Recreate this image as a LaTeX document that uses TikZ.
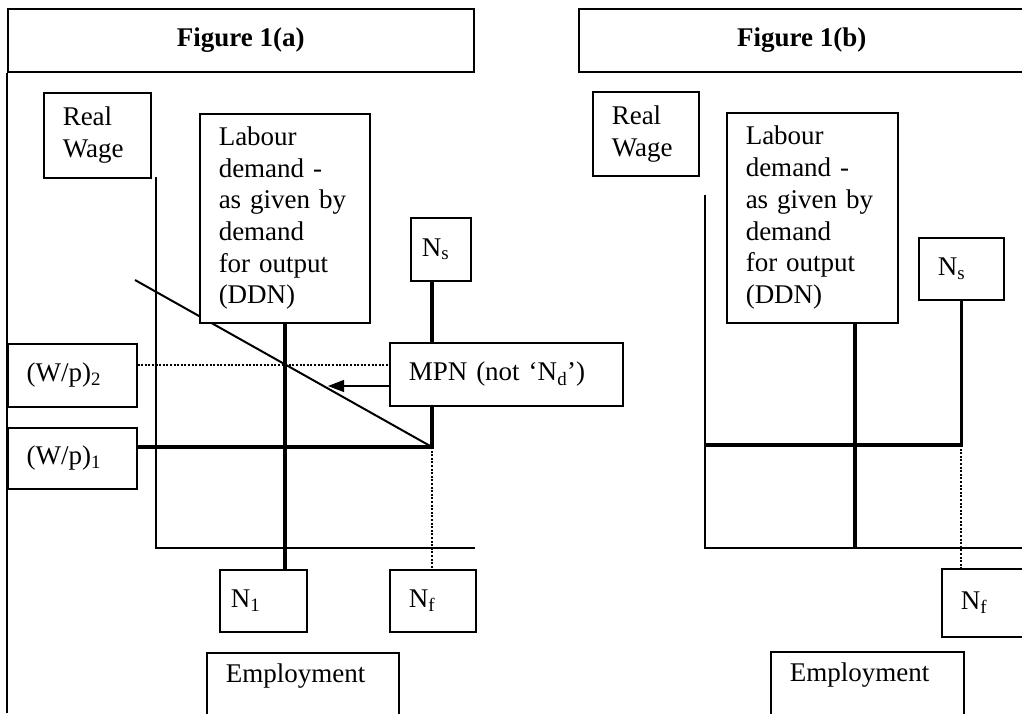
\documentclass[tikz,border=0pt]{standalone}
\usepackage{fontspec}
\setmainfont{Liberation Serif}
\usetikzlibrary{arrows.meta,backgrounds}

\newcommand{\figfont}{\fontsize{27}{31.7}\selectfont}

\tikzset{
  box/.style={draw, fill=white, line width=1.5pt, anchor=north west,
    inner xsep=19pt, inner ysep=0pt, align=left, font=\figfont},
  titlebox/.style={draw, fill=white, line width=1.5pt, anchor=north west,
    inner sep=0pt, align=center, font=\figfont\bfseries},
  axis/.style={line width=1.5pt},
  curve/.style={line width=3.5pt},
  guide/.style={dash pattern=on 2pt off 1.6pt, line width=2.2pt},
}

\begin{document}
\begin{tikzpicture}[x=1pt,y=-1pt]

        \useasboundingbox (0,0) rectangle (1022,713);
        \clip (0,0) rectangle (1022,713);

        % Titles
        \node[titlebox, minimum width=466pt, minimum height=63pt] (titleA) at (7,8) {Figure 1(a)};
        \node[titlebox, minimum width=446pt, minimum height=63pt] (titleB) at (578,8) {Figure 1(b)};

        % Boxes of figure 1(a)
        \node[box, text width=69pt, minimum height=85pt] (wageA) at (43,92) {Real\\Wage};
        \node[box, text width=132pt, minimum height=209pt] (ddnA) at (199,113)
            {Labour\\demand -\\as given by\\demand\\for output\\(DDN)};
        \node[box, inner xsep=11pt, text width=38pt, minimum height=63pt] (nsA) at (410,217) {N\textsubscript{s}};
        \node[box, text width=91pt, minimum height=63pt] (wp2) at (7,343) {(W/p)\textsubscript{2}};
        \node[box, text width=91pt, minimum height=61pt] (wp1) at (7,427) {(W/p)\textsubscript{1}};
        \node[box, text width=195pt, minimum height=63pt] (mpn) at (389,342) {MPN (not `N\textsubscript{d}')};
        \node[box, inner xsep=11pt, text width=65pt, minimum height=62pt] (n1) at (219,569) {N\textsubscript{1}};
        \node[box, text width=48pt, minimum height=62pt] (nfA) at (389,569) {N\textsubscript{f}};
        \node[box, text width=154pt, text height=30pt, text depth=70pt] (empA) at (206,652) {Employment};

        % Boxes of figure 1(b)
        \node[box, text width=68pt, minimum height=84pt] (wageB) at (592,91) {Real\\Wage};
        \node[box, text width=133pt, minimum height=210pt] (ddnB) at (726,112)
            {Labour\\demand -\\as given by\\demand\\for output\\(DDN)};
        \node[box, text width=47pt, minimum height=62pt] (nsB) at (918,237) {N\textsubscript{s}};
        \node[box, text width=62pt, minimum height=68pt] (nfB) at (941,568) {N\textsubscript{f}};
        \node[box, text width=155pt, text height=30pt, text depth=70pt] (empB) at (770,651) {Employment};

        % Points
        \coordinate (topA) at (156,177);
        \coordinate (oA) at (156,548);
        \coordinate (endA) at (475,548);
        \coordinate (kinkA) at (432,447);
        \coordinate (crossA) at (285,365);
        \coordinate (mpnTop) at (135,280);
        \coordinate (tipA) at (328,386);
        \coordinate (baseA) at (7,713);
        \coordinate (topB) at (705,195);
        \coordinate (oB) at (705,548);
        \coordinate (endB) at (1022,548);
        \coordinate (kinkB) at (961,445);
        \coordinate (ddnFootB) at (855,548);

        \begin{scope}[on background layer]
            % Figure 1(a)
            \draw[line width=1.5pt] (titleA.south west) -- (baseA);
            \draw[axis] (topA) -- (oA) -- (endA);
            \draw[line width=2pt] (mpnTop) -- (kinkA);
            \draw[curve] (ddnA.south) -- (ddnA.south |- n1.north);
            \draw[curve] (nsA.south -| kinkA) -- (kinkA) -- (wp1.east |- kinkA);
            \draw[guide] (kinkA) -- (kinkA |- nfA.north);
            \draw[guide] (wp2.east |- crossA) -- (mpn.west |- crossA);
            \draw[line width=1.2pt, -{Triangle[length=16pt,width=12pt]}] (mpn.west |- tipA) -- (tipA);

            % Figure 1(b)
            \draw[axis] (topB) -- (oB) -- (endB);
            \draw[curve] (ddnFootB |- ddnB.south) -- (ddnFootB);
            \draw[curve] (nsB.south) -- (nsB.south |- kinkB) -- (oB |- kinkB);
            \draw[guide] (kinkB) -- (kinkB |- nfB.north);
        \end{scope}

\end{tikzpicture}
\end{document}
